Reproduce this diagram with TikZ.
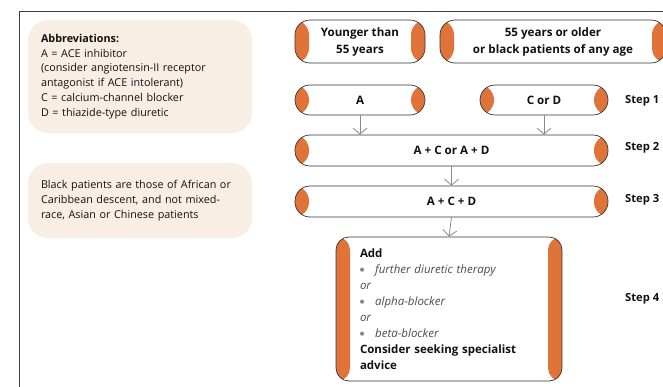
\documentclass[tikz,border=0pt]{standalone}
\usepackage{fontspec}
\setmainfont{Open Sans}
\usetikzlibrary{arrows.meta}
\definecolor{org}{HTML}{E0733A}
\definecolor{beige}{HTML}{F9EEE4}
\definecolor{arr}{HTML}{8A8A8A}
\definecolor{txt}{HTML}{111111}
\tikzset{
  pillbox/.style={draw=black!80, line width=0.7pt, fill=white, rounded corners=#1,
    font=\fontsize{11.6}{17}\selectfont\bfseries, text=txt, align=center,
    path picture={
      \fill[org] (path picture bounding box.south west) rectangle ([xshift=14pt]path picture bounding box.north west);
      \fill[org] ([xshift=-14pt]path picture bounding box.south east) rectangle (path picture bounding box.north east);
    }},
  infobox/.style={fill=beige, rounded corners=20pt, align=left, inner xsep=13pt,
    font=\fontsize{10.8}{14.8}\selectfont, text=txt},
  steplbl/.style={anchor=west, font=\fontsize{11.2}{12}\selectfont\bfseries, text=txt, inner sep=0pt},
  flow/.style={draw=arr, line width=0.8pt, -{Straight Barb[length=6pt,width=14pt,line width=0.8pt]}},
}
\newcommand{\bul}{\raisebox{0.25ex}{\tikz\fill[arr] (0,0) circle (2.1pt);}\hspace{11pt}}
\begin{document}
\begin{tikzpicture}[x=1pt,y=-1pt]
\useasboundingbox (0,0) rectangle (663,386);
% frame
\draw[black!75, line width=0.9pt] (19,390) -- (19,11) -- (670,11);
% info boxes
\node[infobox, text width=198pt, minimum height=113pt] (abbr) at (140,76.5)
  {\textbf{Abbreviations:}\\
   A = ACE inhibitor\\
   (consider angiotensin-II receptor\\
   antagonist if ACE intolerant)\\
   C = calcium-channel blocker\\
   D = thiazide-type diuretic};
\node[infobox, text width=198pt, minimum height=75pt] (black) at (140,200.5)
  {Black patients are those of African or\\
   Caribbean descent, and not mixed-\\
   race, Asian or Chinese patients};
% top boxes
\node[pillbox=15pt, minimum width=130pt, minimum height=43pt] (young) at (360,41.5) {Younger than\\55 years};
\node[pillbox=15pt, minimum width=226pt, minimum height=43pt] (old) at (553,41.5) {55 years or older\\or black patients of any age};
% step 1
\node[pillbox=15pt, minimum width=130pt, minimum height=30pt] (a) at (360,100) {A};
\node[pillbox=15pt, minimum width=128pt, minimum height=30pt] (cd) at (544,100) {C or D};
% step 2, 3
\node[pillbox=15pt, minimum width=313pt, minimum height=31pt] (s2box) at (451.5,150.5) {A + C or A + D};
\node[pillbox=15pt, minimum width=313pt, minimum height=31pt] (s3box) at (451.5,201.5) {A + C + D};
% step 4
\node[pillbox=13pt, minimum width=226pt, minimum height=144pt, text width=178pt, align=left,
      font=\fontsize{11.5}{16}\selectfont] (s4box) at (449,309)
  {\textbf{Add}\\
   {\color{black!70}\bul\textit{further diuretic therapy}}\\
   {\color{black!70}\textit{or}}\\
   {\color{black!70}\bul\textit{alpha-blocker}}\\
   {\color{black!70}\textit{or}}\\
   {\color{black!70}\bul\textit{beta-blocker}}\\
   \textbf{Consider seeking specialist}\\
   \textbf{advice}};
% step labels
\node[steplbl] (l1) at (625,101) {Step 1};
\node[steplbl] (l2) at (625,148) {Step 2};
\node[steplbl] (l3) at (625,200) {Step 3};
\node[steplbl] (l4) at (625,299) {Step 4};
% arrows
\draw[flow] (a.south) -- (a.south |- s2box.north);
\draw[flow] (cd.south) -- (cd.south |- s2box.north);
\draw[flow] (s2box.south) -- (s3box.north);
\draw[flow] (s3box.south) -- (s4box.north);
\end{tikzpicture}
\end{document}
